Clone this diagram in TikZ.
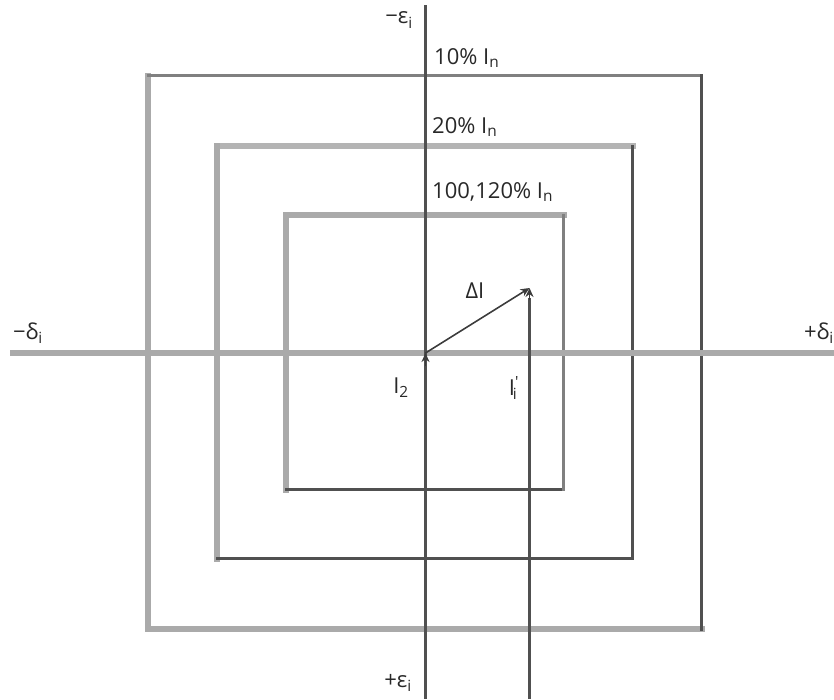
\documentclass[tikz,border=0pt]{standalone}
\usepackage{fontspec}
\setmainfont{Open Sans}
\usetikzlibrary{arrows.meta}
\begin{document}
\begin{tikzpicture}[x=1pt,y=-1pt,
  lgray/.style={draw={rgb,255:red,170;green,170;blue,170},line width=6pt,line cap=rect},
  lgrayb/.style={draw={rgb,255:red,180;green,180;blue,180},line width=6pt,line cap=rect},
  mgray/.style={draw={rgb,255:red,128;green,128;blue,128},line width=3pt,line cap=rect},
  dgray/.style={draw={rgb,255:red,80;green,80;blue,80},line width=3pt,line cap=rect},
  vec/.style={draw={rgb,255:red,60;green,60;blue,60},line width=1.6pt,-{Stealth[length=9pt,width=8pt]}},
  lab/.style={font=\fontsize{22}{26}\selectfont,text={rgb,255:red,40;green,40;blue,40},inner sep=0pt}]
\useasboundingbox (0,0) rectangle (834,699);
% outer square
\coordinate (oTL) at (148,75.5); \coordinate (oTR) at (701.5,75.5);
\coordinate (oBL) at (148,629);  \coordinate (oBR) at (701.5,629);
\draw[lgray] (oTL) -- (oBL);
\draw[lgray] (oBL) -- (oBR);
\draw[mgray] (oTL) -- (oTR);
\draw[dgray] (oTR) -- (oBR);
% middle square
\coordinate (mTL) at (217,146); \coordinate (mTR) at (632.5,146);
\coordinate (mBL) at (217,558.5); \coordinate (mBR) at (632.5,558.5);
\draw[lgrayb] (mTL) -- (mTR);
\draw[lgray] (mTL) -- (mBL);
\draw[dgray] (mBL) -- (mBR);
\draw[dgray] (mTR) -- (mBR);
% inner square
\coordinate (iTL) at (286,215); \coordinate (iTR) at (563.5,215);
\coordinate (iBL) at (286,489.5); \coordinate (iBR) at (563.5,489.5);
\draw[lgray] (iTL) -- (iTR);
\draw[lgray] (iTL) -- (iBL);
\draw[dgray] (iBL) -- (iBR);
\draw[mgray] (iTR) -- (iBR);
% axes
\coordinate (hL) at (10,353); \coordinate (hR) at (834,353);
\coordinate (vT) at (425.5,5); \coordinate (vB) at (425.5,699);
\coordinate (O) at (425.5,353);
\draw[lgray,line cap=butt] (hL) -- (hR);
\draw[dgray,line cap=butt] (vT) -- (vB);
% I1' vector
\coordinate (pB) at (529.5,699); \coordinate (P) at (529.5,288);
\draw[dgray,line cap=butt] (pB) -- (529.5,298);
\draw[vec] (529.5,300) -- (P);
% I2 tip
\draw[vec] (425.5,366) -- (O);
% Delta I
\draw[vec] (O) -- (P);
% labels
\node[lab] (eminus) at (399,20) {−ε\textsubscript{i}};
\node[lab,anchor=west] (l10) at (434,58) {10\% I\textsubscript{n}};
\node[lab,anchor=west] (l20) at (432,127) {20\% I\textsubscript{n}};
\node[lab,anchor=west] (l100) at (432,192) {100,120\% I\textsubscript{n}};
\node[lab] (dI) at (475,291) {ΔI};
\node[lab] (I2) at (401,388) {I\textsubscript{2}};
\node[lab] (I1) at (513,388) {I\textsuperscript{\textquotesingle}\kern-0.28em\textsubscript{i}};
\node[lab] (dminus) at (28,333) {−δ\textsubscript{i}};
\node[lab,anchor=east] (dplus) at (834,333) {+δ\textsubscript{i}};
\node[lab] (eplus) at (398,683) {+ε\textsubscript{i}};
\end{tikzpicture}
\end{document}
